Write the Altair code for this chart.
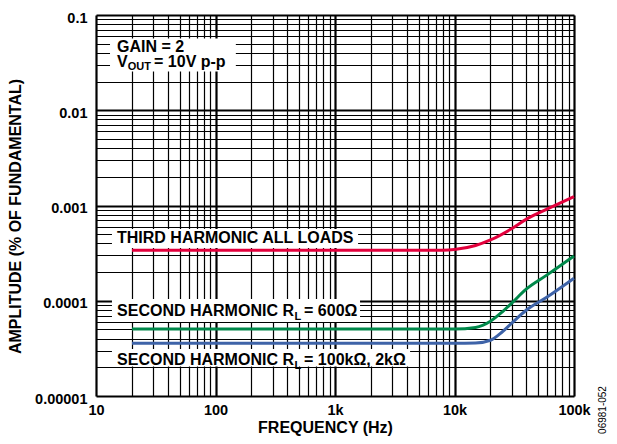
import altair as alt
import pandas as pd

# ---------------- data ----------------
X_DECADES = [10, 100, 1000, 10000, 100000]
X_LABELS = ["10", "100", "1k", "10k", "100k"]
Y_DECADES = [0.00001, 0.0001, 0.001, 0.01, 0.1]
Y_LABELS = ["0.00001", "0.0001", "0.001", "0.01", "0.1"]
MANTISSAS = [1, 2, 3, 4, 5, 6, 7, 8, 9]

red_freq = [20, 100, 1000, 5000, 8000, 10000, 15000, 20000, 30000, 40000, 60000, 100000]
red_amp = [3.4e-4, 3.4e-4, 3.4e-4, 3.4e-4, 3.4e-4, 3.45e-4, 3.8e-4, 4.35e-4, 5.7e-4, 7.2e-4, 9.2e-4, 1.24e-3]

green_freq = [20, 100, 1000, 5000, 10000, 15000, 20000, 25000, 30000, 40000, 60000, 100000]
green_amp = [5.05e-5, 5.05e-5, 5.05e-5, 5.05e-5, 5.05e-5, 5.25e-5, 6.1e-5, 7.6e-5, 9.4e-5, 1.33e-4, 1.88e-4, 2.95e-4]

blue_freq = [20, 100, 1000, 5000, 10000, 15000, 20000, 25000, 30000, 40000, 60000, 100000]
blue_amp = [3.57e-5, 3.57e-5, 3.57e-5, 3.57e-5, 3.57e-5, 3.6e-5, 3.85e-5, 4.7e-5, 5.8e-5, 8.0e-5, 1.1e-4, 1.72e-4]

SERIES = ["THIRD HARMONIC", "SECOND HARMONIC 600", "SECOND HARMONIC 100k"]
COLORS = ["#E2003C", "#00884A", "#3E63A8"]

# annotation boxes (white backgrounds), data coordinates
box_f1 = [13.1, 13.6, 13.6, 13.6]
box_f2 = [148, 1560, 1620, 4250]
box_a1 = [0.0567, 5.67e-4, 1.043e-4, 3.11e-5]
box_a2 = [0.0255, 3.58e-4, 5.98e-5, 2.04e-5]

# annotation texts
main_text = ["GAIN = 2", "V", "THIRD HARMONIC ALL LOADS", "SECOND HARMONIC R", "SECOND HARMONIC R"]
main_f = [15, 15, 15, 15, 15]
main_a = [0.0412, 0.02866, 4.04e-4, 6.92e-5, 2.12e-5]

out_text = ["OUT"]
out_f = [15]
out_a = [0.02866]

vrest_text = ["= 10V p-p"]
vrest_f = [15]
vrest_a = [0.02866]

sub_text = ["L", "L"]
sub_f = [15, 15]
sub_a = [6.92e-5, 2.12e-5]

rest_text = ["= 600\u03a9", "= 100k\u03a9, 2k\u03a9"]
rest_f = [15, 15]
rest_a = [6.92e-5, 2.12e-5]

code_text = ["06981-052"]
code_f = [175000]
code_a = [7.13e-6]

# ---------------- build ----------------
FONT = "Liberation Sans"

lines_df = pd.concat([
    pd.DataFrame({"f": red_freq, "a": red_amp, "s": SERIES[0]}),
    pd.DataFrame({"f": green_freq, "a": green_amp, "s": SERIES[1]}),
    pd.DataFrame({"f": blue_freq, "a": blue_amp, "s": SERIES[2]}),
])

x_grid = [m * d for d in X_DECADES[:-1] for m in MANTISSAS] + [X_DECADES[-1]]
y_grid = [m * d for d in Y_DECADES[:-1] for m in MANTISSAS] + [Y_DECADES[-1]]


def label_expr(vals, labs):
    expr = "''"
    for v, l in reversed(list(zip(vals, labs))):
        expr = f"datum.value == {v!r} ? '{l}' : ({expr})"
    return expr


def grid_width(vals):
    arr = "[" + ",".join(repr(v) for v in vals) + "]"
    return {"condition": {"test": f"indexof({arr}, datum.value) >= 0", "value": 2.2}, "value": 1.2}


xscale = alt.Scale(type="log", domain=[X_DECADES[0], X_DECADES[-1]], nice=False)
yscale = alt.Scale(type="log", domain=[Y_DECADES[0], Y_DECADES[-1]], nice=False)

common_axis = dict(
    domain=False, ticks=False, tickSize=0, grid=True, gridColor="black", gridOpacity=1,
    labelFont=FONT, labelFontSize=14.5, labelFontWeight="bold", labelColor="black",
    titleFont=FONT, titleFontSize=16, titleFontWeight="bold", titleColor="black",
    labelOverlap=False, labelFlush=False, labelBound=False,
)

xaxis = alt.Axis(
    values=x_grid, labelExpr=label_expr(X_DECADES, X_LABELS), gridWidth=grid_width(X_DECADES),
    title="FREQUENCY (Hz)", titleX=229, titleY=36, titleAlign="center", titleBaseline="alphabetic",
    labelPadding=7, **common_axis,
)
yaxis = alt.Axis(
    values=y_grid, labelExpr=label_expr(Y_DECADES, Y_LABELS), gridWidth=grid_width(Y_DECADES),
    title="AMPLITUDE (% OF FUNDAMENTAL)", titleAngle=270, titleX=-81, titleY=201,
    titleAlign="center", titleBaseline="middle", labelPadding=9, labelOffset=3, **common_axis,
)


def X(field):
    return alt.X(field, type="quantitative", scale=xscale, axis=xaxis)


def Y(field):
    return alt.Y(field, type="quantitative", scale=yscale, axis=yaxis)


lines = alt.Chart(lines_df).mark_line(strokeWidth=3, interpolate="monotone").encode(
    x=X("f"), y=Y("a"),
    color=alt.Color("s:N", scale=alt.Scale(domain=SERIES, range=COLORS), legend=None),
    detail="s:N",
)

boxes_df = pd.DataFrame({"f1": box_f1, "f2": box_f2, "a1": box_a1, "a2": box_a2})
boxes = alt.Chart(boxes_df).mark_rect(color="white", opacity=1).encode(
    x=X("f1"), x2=alt.X2("f2"), y=Y("a1"), y2=alt.Y2("a2"),
)


def text_layer(texts, fs, as_, size=16, dx=0, dy=0, weight="bold", angle=0, align="left",
               baseline="alphabetic"):
    df = pd.DataFrame({"t": texts, "f": fs, "a": as_})
    return alt.Chart(df).mark_text(
        font=FONT, fontSize=size, fontWeight=weight, color="black", align=align,
        baseline=baseline, dx=dx, dy=dy, angle=angle,
    ).encode(x=X("f"), y=Y("a"), text="t:N")


t_main = text_layer(main_text, main_f, main_a)
t_out = text_layer(out_text, out_f, out_a, size=11, dx=10.7, dy=3.5)
t_vrest = text_layer(vrest_text, vrest_f, vrest_a, dx=37)
t_sub = text_layer(sub_text, sub_f, sub_a, size=11, dx=177.5, dy=4)
t_rest = text_layer(rest_text, rest_f, rest_a, dx=187)
t_code = text_layer(code_text, code_f, code_a, size=10, weight="normal", angle=270,
                    align="center", baseline="middle")

chart = alt.layer(boxes, lines, t_main, t_out, t_vrest, t_sub, t_rest, t_code).properties(
    width=478, height=381,
    padding={"left": 88, "top": 7, "right": 35, "bottom": 40},
    autosize=alt.AutoSizeParams(type="none"),
).configure_view(stroke="black", strokeWidth=2).configure(background="white")

chart.save("out.html", embed_options={"renderer": "svg", "actions": False})
